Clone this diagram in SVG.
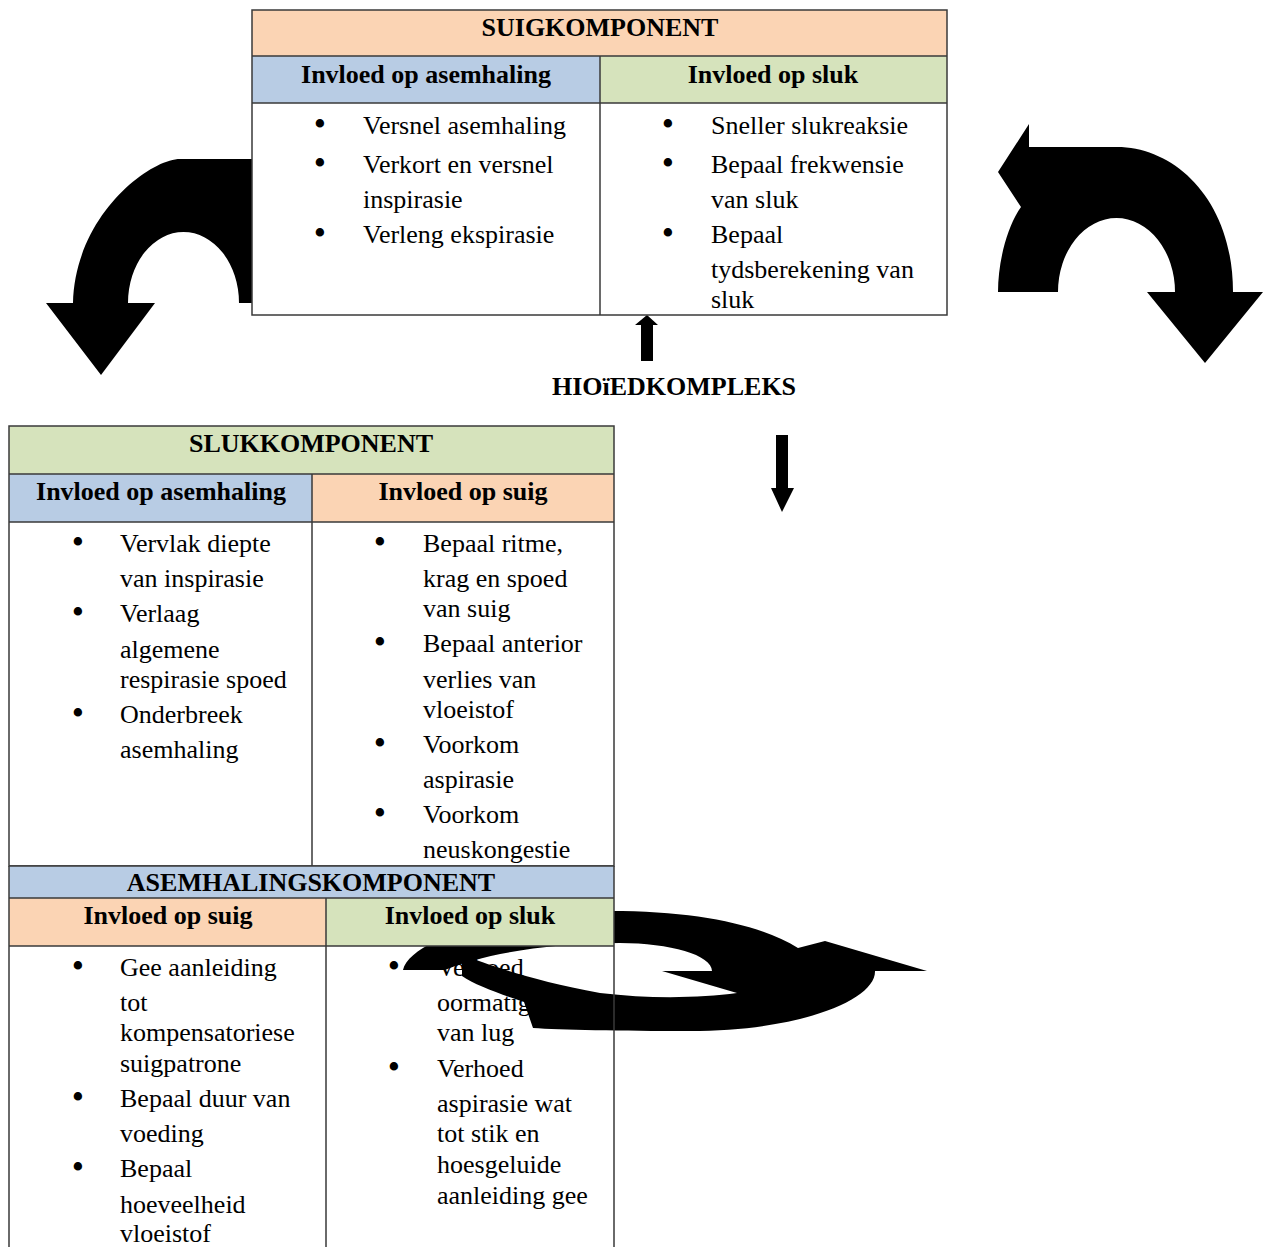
<svg xmlns="http://www.w3.org/2000/svg" width="1263" height="1247" viewBox="0 0 1263 1247">
<style>
.h{font-family:"Liberation Serif",serif;font-weight:bold;font-size:26px;text-anchor:middle;fill:#000}
.t{font-family:"Liberation Serif",serif;font-size:26px;fill:#000}
.bu{font-family:"Liberation Serif",serif;font-size:35px;text-anchor:middle;fill:#000}
.ln{stroke:#3a3a3a;stroke-width:1.5;fill:none}
.peach{fill:#FBD4B4}
.blue{fill:#B8CCE4}
.green{fill:#D6E3BC}
.arr{fill:#000;stroke:none}
</style>
<rect x="0" y="0" width="1263" height="1247" fill="#fff"/>

<g id="connectors">
  <path class="arr" d="M252,159 L180,159 C150,159 75,215 73,303 L46,303 L101,375 L155,303 L128,303 A55.5 71 0 0 1 239,303 L252,303 Z"/>
  <path class="arr" d="M1029,147 L1117,147 C1175,147 1233,200 1233,292 L1263,292 L1205,363 L1147,292 L1175,292 A58.5 74 0 0 0 1058,292 L998,292 C998,260 1008,225 1021,207 L998,172 L1029,124 Z"/>
  <path class="arr" d="M641,361 L641,325 L635,325 L647,315 L658,325 L653,325 L653,361 Z"/>
  <path class="arr" d="M776,435 L788,435 L788,488 L794,488 L782,512 L771,488 L776,488 Z"/>
  <path class="arr" d="M403,970 C410,940 500,911 610,911 C700,911 760,925 798,948 L825,941 L927,971 L712,971 C712,955 670,943 620,943 C545,943 480,955 445,970 Z"/>
  <path class="arr" d="M462,955 C490,965 530,980 600,993 C650,999 700,998 737,993 L662,971 L875,971 C876,1000 800,1031 690,1031 C620,1031 560,1030 533,1028 L524,1002 C500,994 475,985 462,976 Z"/>
  <text class="h" x="674" y="395">HIOïEDKOMPLEKS</text>
</g>

<g id="suigkomponent">
  <rect class="peach" x="252" y="10" width="695" height="46"/>
  <rect class="blue" x="252" y="56" width="348" height="47"/>
  <rect class="green" x="600" y="56" width="347" height="47"/>
  <rect x="252" y="103" width="695" height="212" fill="#fff"/>
  <rect class="ln" x="252" y="10" width="695" height="305"/>
  <path class="ln" d="M252,56 H947 M252,103 H947 M600,56 V315"/>
  <text class="h" x="600" y="36">SUIGKOMPONENT</text>
  <text class="h" x="426" y="83">Invloed op asemhaling</text>
  <text class="h" x="773" y="83">Invloed op sluk</text>
  <text class="bu" x="320" y="136">•</text>
  <text class="bu" x="320" y="175">•</text>
  <text class="bu" x="320" y="245">•</text>
  <text class="t" x="363" y="134">Versnel asemhaling</text>
  <text class="t" x="363" y="173">Verkort en versnel</text>
  <text class="t" x="363" y="208">inspirasie</text>
  <text class="t" x="363" y="243">Verleng ekspirasie</text>
  <text class="bu" x="668" y="136">•</text>
  <text class="bu" x="668" y="175">•</text>
  <text class="bu" x="668" y="245">•</text>
  <text class="t" x="711" y="134">Sneller slukreaksie</text>
  <text class="t" x="711" y="173">Bepaal frekwensie</text>
  <text class="t" x="711" y="208">van sluk</text>
  <text class="t" x="711" y="243">Bepaal</text>
  <text class="t" x="711" y="278">tydsberekening van</text>
  <text class="t" x="711" y="308">sluk</text>
</g>

<g id="slukkomponent">
  <rect class="green" x="9" y="426" width="605" height="48"/>
  <rect class="blue" x="9" y="474" width="303" height="48"/>
  <rect class="peach" x="312" y="474" width="302" height="48"/>
  <rect x="9" y="522" width="605" height="344" fill="#fff"/>
  <rect class="ln" x="9" y="426" width="605" height="440"/>
  <path class="ln" d="M9,474 H614 M9,522 H614 M312,474 V866"/>
  <text class="h" x="311" y="452">SLUKKOMPONENT</text>
  <text class="h" x="161" y="500">Invloed op asemhaling</text>
  <text class="h" x="463" y="500">Invloed op suig</text>
  <text class="bu" x="78" y="554">•</text>
  <text class="bu" x="78" y="624">•</text>
  <text class="bu" x="78" y="725">•</text>
  <text class="t" x="120" y="552">Vervlak diepte</text>
  <text class="t" x="120" y="587">van inspirasie</text>
  <text class="t" x="120" y="622">Verlaag</text>
  <text class="t" x="120" y="658">algemene</text>
  <text class="t" x="120" y="688">respirasie spoed</text>
  <text class="t" x="120" y="723">Onderbreek</text>
  <text class="t" x="120" y="758">asemhaling</text>
  <text class="bu" x="380" y="554">•</text>
  <text class="bu" x="380" y="654">•</text>
  <text class="bu" x="380" y="755">•</text>
  <text class="bu" x="380" y="825">•</text>
  <text class="t" x="423" y="552">Bepaal ritme,</text>
  <text class="t" x="423" y="587">krag en spoed</text>
  <text class="t" x="423" y="617">van suig</text>
  <text class="t" x="423" y="652">Bepaal anterior</text>
  <text class="t" x="423" y="688">verlies van</text>
  <text class="t" x="423" y="718">vloeistof</text>
  <text class="t" x="423" y="753">Voorkom</text>
  <text class="t" x="423" y="788">aspirasie</text>
  <text class="t" x="423" y="823">Voorkom</text>
  <text class="t" x="423" y="858">neuskongestie</text>
</g>

<g id="asemhalingskomponent">
  <rect class="blue" x="9" y="866" width="605" height="32"/>
  <rect class="peach" x="9" y="898" width="317" height="48"/>
  <rect class="green" x="326" y="898" width="288" height="48"/>
  <path class="ln" d="M9,866 H614 M9,898 H614 M9,946 H614 M9,866 V1250 M614,866 V1250 M326,898 V1250"/>
  <text class="h" x="311" y="891">ASEMHALINGSKOMPONENT</text>
  <text class="h" x="168" y="924">Invloed op suig</text>
  <text class="h" x="470" y="924">Invloed op sluk</text>
  <text class="bu" x="78" y="978">•</text>
  <text class="bu" x="78" y="1109">•</text>
  <text class="bu" x="78" y="1179">•</text>
  <text class="t" x="120" y="976">Gee aanleiding</text>
  <text class="t" x="120" y="1011">tot</text>
  <text class="t" x="120" y="1041">kompensatoriese</text>
  <text class="t" x="120" y="1072">suigpatrone</text>
  <text class="t" x="120" y="1107">Bepaal duur van</text>
  <text class="t" x="120" y="1142">voeding</text>
  <text class="t" x="120" y="1177">Bepaal</text>
  <text class="t" x="120" y="1213">hoeveelheid</text>
  <text class="t" x="120" y="1242">vloeistof</text>
  <text class="bu" x="394" y="978">•</text>
  <text class="bu" x="394" y="1079">•</text>
  <text class="t" x="437" y="976">Verhoed</text>
  <text class="t" x="437" y="1011">oormatige</text>
  <text class="t" x="437" y="1041">van lug</text>
  <text class="t" x="437" y="1077">Verhoed</text>
  <text class="t" x="437" y="1112">aspirasie wat</text>
  <text class="t" x="437" y="1142">tot stik en</text>
  <text class="t" x="437" y="1173">hoesgeluide</text>
  <text class="t" x="437" y="1204">aanleiding gee</text>
</g>
</svg>
